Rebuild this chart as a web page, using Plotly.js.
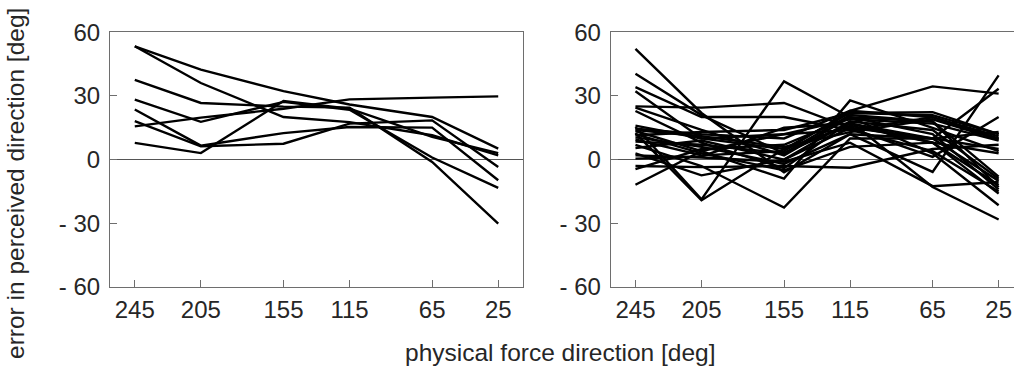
<!DOCTYPE html>
<html>
<head>
<meta charset="utf-8">
<script src="https://cdn.plot.ly/plotly-3.0.1.min.js"></script>
<style>
html,body{margin:0;padding:0;overflow:hidden;background:#fff;}
#chart{width:1024px;height:369px;}
</style>
</head>
<body>
<div id="chart"></div>
<script>
// Force directions (x categories, plotted on a reversed numeric axis)
const directions = [245, 205, 155, 115, 65, 25];
const xTickVals = [245, 205, 155, 115, 65, 25];
const xTickText = ["245", "205", "155", "115", "65", "25"];
const yTickVals = [60, 30, 0, -30, -60];
const yTickText = ["60", "30", "0", "- 30", "- 60"];

// Left panel: per-subject errors in perceived direction [deg]
const leftSubjects = [
  [53.4, 42.4, 32.3, 26.0, 20.1, 5.2],
  [53.4, 36.1, 20.1, 17.7, 11.5, 2.0],
  [37.6, 26.7, 25.0, 24.5, -1.1, -30.1],
  [28.3, 17.8, 27.2, 23.5, 1.0, -13.3],
  [15.7, 19.8, 24.0, 28.4, 29.2, 29.8],
  [23.6, 6.6, 12.5, 15.4, 15.1, -9.7],
  [18.2, 6.3, 7.5, 17.0, 18.5, -3.5],
  [7.9, 3.1, 27.6, 24.0, 10.7, 3.1]
];

// Right panel: per-subject errors in perceived direction [deg]
const rightSubjects = [
  [52.2, 22.0, -6.0, 12.0, 10.0, -10.0],
  [40.5, 21.0, 3.0, 17.0, 8.0, -12.0],
  [34.2, 20.1, 20.1, 14.0, 20.0, 10.0],
  [32.2, 10.0, 5.0, 22.0, 22.4, 12.0],
  [25.1, 24.5, 26.7, 15.0, 10.0, 5.0],
  [24.5, 14.0, 2.0, 20.0, 18.0, -13.0],
  [22.9, 8.0, -4.0, 18.0, 14.0, -9.0],
  [15.4, -18.7, 36.9, 20.0, 12.0, -14.0],
  [14.6, 12.0, 10.0, 23.0, 20.0, 11.0],
  [13.5, 4.0, -8.9, 27.9, 15.0, 4.0],
  [12.5, -19.1, 5.0, 16.0, 8.0, -16.0],
  [11.5, 13.0, 14.0, 22.0, 21.0, 12.0],
  [10.5, 6.0, -2.0, 12.0, -5.8, 39.7],
  [9.5, 2.0, 4.0, 23.0, 34.5, 31.1],
  [7.0, -3.0, -22.6, 10.0, 10.0, 33.4],
  [5.5, 9.0, 0.0, 15.0, 1.3, 20.1],
  [3.0, -7.4, 0.0, 18.0, -12.9, -28.2],
  [2.0, 1.0, -1.0, 8.0, -12.5, -10.5],
  [-3.0, -3.5, -3.0, -3.8, 5.0, 7.0],
  [-4.5, 5.0, 7.0, 20.0, 3.0, -21.5],
  [-11.8, 4.0, 12.0, 19.0, 17.0, 9.0],
  [16.0, 10.0, 12.0, 14.0, 4.0, -15.0],
  [12.0, 3.0, -5.0, 6.0, 8.0, 3.0],
  [8.5, 7.0, 3.0, 21.0, 18.0, -8.0],
  [0.5, 1.5, 15.0, 17.0, 10.0, 13.0],
  [14.0, 11.0, 6.0, 13.0, 19.0, 9.5]
];

const yTitle = "error in perceived direction [deg]";
const xTitle = "physical force direction [deg]";

const W = 1024, H = 369;
const lineStyle = {color: "#000", width: 2.4};
const traces = [];
leftSubjects.forEach(s => traces.push({
  x: directions, y: s, type: "scatter", mode: "lines",
  line: lineStyle, xaxis: "x", yaxis: "y", hoverinfo: "skip", showlegend: false
}));
rightSubjects.forEach(s => traces.push({
  x: directions, y: s, type: "scatter", mode: "lines",
  line: lineStyle, xaxis: "x2", yaxis: "y2", hoverinfo: "skip", showlegend: false
}));

const font = {family: "Liberation Sans, Arial, Helvetica, sans-serif", size: 24, color: "#262626"};
const axisColor = "#6e6e6e";
function xAxis(domain, anchor) {
  return {
    domain: domain, anchor: anchor, range: [260, 10],
    tickmode: "array", tickvals: xTickVals, ticktext: xTickText,
    ticks: "inside", ticklen: 7, tickcolor: axisColor, tickwidth: 1,
    showline: true, linecolor: axisColor, linewidth: 1, mirror: true,
    showgrid: false, zeroline: false, tickfont: font, ticklabelstandoff: 1
  };
}
function yAxis(domain, anchor) {
  return {
    domain: domain, anchor: anchor, range: [-60, 60],
    tickmode: "array", tickvals: yTickVals, ticktext: yTickText,
    ticks: "inside", ticklen: 7, tickcolor: axisColor, tickwidth: 1,
    showline: true, linecolor: axisColor, linewidth: 1, mirror: true,
    showgrid: false, zeroline: true, zerolinecolor: "#555", zerolinewidth: 1,
    tickfont: font, ticklabelstandoff: 4
  };
}
const yDom = [1 - 287 / H, 1 - 32.3 / H];
const layout = {
  width: W, height: H,
  margin: {l: 0, r: 0, t: 0, b: 0},
  paper_bgcolor: "#fff", plot_bgcolor: "#fff",
  xaxis: xAxis([110 / W, 523 / W], "y"),
  yaxis: yAxis(yDom, "x"),
  xaxis2: xAxis([610.7 / W, 1023.4 / W], "y2"),
  yaxis2: yAxis(yDom, "x2"),
  annotations: [
    {text: yTitle, xref: "paper", yref: "paper", x: 15 / W, y: 1 - 184 / H,
     textangle: -90, showarrow: false, font: {family: font.family, size: 24.5, color: "#262626"},
     xanchor: "center", yanchor: "middle"},
    {text: xTitle, xref: "paper", yref: "paper", x: 560 / W, y: 1 - 352 / H,
     showarrow: false, font: {family: font.family, size: 24.5, color: "#262626"},
     xanchor: "center", yanchor: "middle"}
  ],
  showlegend: false
};
Plotly.newPlot("chart", traces, layout, {staticPlot: true, displayModeBar: false});
</script>
</body>
</html>
